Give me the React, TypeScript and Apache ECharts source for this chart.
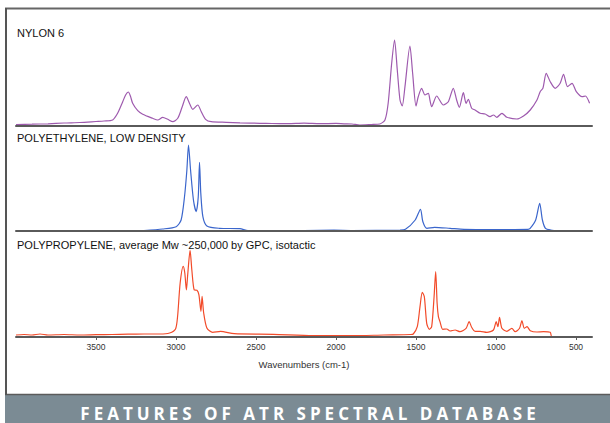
import React, { useEffect, useRef } from 'react';
import * as echarts from 'echarts';

const panelTitles = [
  'NYLON 6',
  'POLYETHYLENE, LOW DENSITY',
  'POLYPROPYLENE, average Mw ~250,000 by GPC, isotactic',
];
const bannerText = 'FEATURES OF ATR SPECTRAL DATABASE';
const axisTitle = 'Wavenumbers (cm-1)';
const tickValues = [3500, 3000, 2500, 2000, 1500, 1000, 500];

const nylonWavenumbers = [
  4000, 3900, 3800, 3700, 3600, 3500, 3450, 3396, 3365, 3333, 3315, 3298, 3285, 3271, 3239, 3208,
  3146, 3114, 3083, 3052, 3020, 2989, 2961, 2936, 2916, 2895, 2864, 2842, 2815, 2780, 2686, 2600,
  2477, 2400, 2300, 2200, 2100, 2000, 1950, 1900, 1851, 1780, 1726, 1694, 1674, 1652, 1634, 1617,
  1600, 1586, 1569, 1538, 1521, 1500, 1486, 1465, 1444, 1423, 1413, 1402, 1371, 1329, 1298, 1267,
  1246, 1229, 1204, 1187, 1173, 1152, 1131, 1099, 1068, 1037, 1016, 995, 963, 949, 932, 870,
  828, 786, 744, 724, 707, 686, 661, 630, 599, 578, 553, 525, 498, 462, 441, 415,
];
const nylonAbsorbance = [
  1.5, 1.8, 2.2, 3, 3.5, 4.5, 5, 6, 12.7, 24.3, 31, 34, 30, 22.7, 15.3, 11.7,
  7.7, 6, 8.7, 6.7, 4.3, 7.7, 19.3, 29.3, 22.7, 16.7, 21, 14.3, 6.7, 4.3, 3.7, 3.2,
  2.7, 2.5, 2.3, 2.8, 2.3, 2.6, 2.2, 2, 1, 1.5, 2, 6, 22.7, 62.7, 86, 56,
  26, 20, 39.3, 80, 52.7, 20, 29.3, 37.7, 31, 32.7, 26, 19.3, 30, 21, 24.3, 37.7,
  26, 18.7, 33.3, 22.7, 26.7, 17.7, 16, 12.7, 12, 9.3, 11, 8.7, 12.7, 11, 8.7, 7,
  10, 16, 26, 34.3, 37.7, 52.7, 44.3, 37.7, 42.7, 51.7, 39.3, 42.7, 34.3, 29.3, 30, 22.7,
];

const peWavenumbers = [
  3200, 3083, 2999, 2968, 2947, 2932, 2922, 2909, 2891, 2874, 2861, 2853, 2845, 2832, 2807, 2728,
  2600, 2550, 2200, 2013, 1900, 1600, 1566, 1505, 1472, 1457, 1432, 1384, 1287, 1200, 1000, 800,
  788, 752, 727, 710, 691, 659, 600, 400,
];
const peAbsorbance = [
  0.5, 2, 4.3, 11, 34, 61, 86, 61, 31, 19.3, 34, 68.7, 37.7, 14.3, 5, 2.7,
  2.3, 0.5, 0.5, 0.8, 0.5, 1, 1.7, 11, 21.7, 9.3, 2.7, 3.7, 2.7, 1.7, 1.5, 1.7,
  2.3, 11, 27.7, 11, 2.7, 1, 0, 0,
];

const ppWavenumbers = [
  4000, 3950, 3900, 3850, 3800, 3700, 3600, 3500, 3400, 3300, 3200, 3100, 3040, 3003, 2990, 2974,
  2955, 2945, 2935, 2927, 2912, 2901, 2886, 2869, 2857, 2844, 2837, 2827, 2807, 2771, 2722, 2636,
  2391, 2145, 2000, 1901, 1700, 1534, 1517, 1492, 1475, 1461, 1448, 1433, 1417, 1402, 1387, 1377,
  1368, 1360, 1350, 1333, 1308, 1287, 1256, 1225, 1187, 1168, 1152, 1131, 1099, 1057, 1016, 999,
  988, 978, 963, 932, 901, 880, 853, 838, 823, 806, 786, 744, 703, 661, 651, 400,
];
const ppAbsorbance = [
  2, 2.5, 2, 3, 2, 2.5, 2, 2.3, 2.5, 2.8, 3, 3, 4, 8, 20.7, 54,
  70.7, 64, 47, 62, 86.7, 67, 47, 46.7, 42.3, 25.7, 40.7, 24, 9, 4.7, 5.7, 3.3,
  2.7, 1.3, 1.5, 1.3, 2, 2.5, 3, 10.3, 30.3, 44.7, 40.3, 13.7, 7.7, 10.3, 40.3, 65.3,
  33.7, 20.3, 15.3, 7.7, 8, 6, 7, 5.3, 8.7, 15.3, 9.7, 5.7, 5.7, 4.7, 7, 15.3,
  10.3, 19.7, 8.7, 5.7, 8.7, 5.3, 8.7, 16.3, 8.7, 10.3, 6.3, 5, 5.3, 4.7, 0.5, 0.5,
];

const seriesColors = ['#9e5aae', '#3b66cc', '#f24b2a'];

export default function App() {
  const ref = useRef<HTMLDivElement>(null);

  useEffect(() => {
    if (!ref.current) return;
    const chart = echarts.init(ref.current, null, { renderer: 'svg' });
    const zip = (w: number[], v: number[]) => w.map((x, i) => [x, v[i]]);
    const datasets = [
      zip(nylonWavenumbers, nylonAbsorbance),
      zip(peWavenumbers, peAbsorbance),
      zip(ppWavenumbers, ppAbsorbance),
    ];
    const tops = [26, 131, 237];
    const titleY = [33, 138, 245];

    const applySpacing = () => {
      const root = ref.current;
      if (!root) return;
      root.querySelectorAll('text').forEach((t) => {
        if (t.textContent === bannerText) {
          t.setAttribute('letter-spacing', '4');
        }
      });
    };
    chart.on('finished', applySpacing);

    chart.setOption({
      animation: false,
      grid: tops.map((top) => ({ left: 16, right: 18, top, height: 100 })),
      xAxis: tops.map((_, i) => ({
        type: 'value',
        gridIndex: i,
        min: 400,
        max: 4000,
        inverse: true,
        z: 5,
        axisLine: { show: true, lineStyle: { color: '#5a5a5a', width: 2 } },
        axisTick:
          i === 2
            ? { show: true, length: 3, customValues: tickValues, lineStyle: { color: '#5a5a5a', width: 1 } }
            : { show: false },
        axisLabel:
          i === 2
            ? {
                show: true,
                customValues: tickValues,
                formatter: (v: number) => String(v),
                margin: 5,
                fontSize: 8.5,
                color: '#333',
                fontFamily: 'Liberation Sans',
              }
            : { show: false },
        splitLine: { show: false },
        name: i === 2 ? axisTitle : '',
        nameLocation: 'middle',
        nameGap: 22,
        nameTextStyle: { fontSize: 9.5, color: '#333', fontFamily: 'Liberation Sans' },
      })),
      yAxis: tops.map((_, i) => ({
        type: 'value',
        gridIndex: i,
        min: 0,
        max: 100,
        show: false,
      })),
      series: datasets.map((data, i) => ({
        type: 'line',
        xAxisIndex: i,
        yAxisIndex: i,
        data,
        symbol: 'none',
        showSymbol: false,
        smooth: 0.25,
        silent: true,
        lineStyle: { color: seriesColors[i], width: 1.2 },
      })),
      graphic: [
        { type: 'rect', silent: true, shape: { x: 5, y: 395, width: 605, height: 28 }, style: { fill: '#7b8b94' } },
        { type: 'line', silent: true, shape: { x1: 5, y1: 394.5, x2: 610, y2: 394.5 }, style: { stroke: '#5b5b5b', lineWidth: 1.5 } },
        { type: 'line', silent: true, shape: { x1: 5, y1: 8.5, x2: 610, y2: 8.5 }, style: { stroke: '#666', lineWidth: 2 } },
        { type: 'line', silent: true, shape: { x1: 6, y1: 8, x2: 6, y2: 395 }, style: { stroke: '#555', lineWidth: 2 } },
        ...panelTitles.map((t, i) => ({
          type: 'text',
          silent: true,
          x: 17,
          y: titleY[i],
          style: {
            text: t,
            fontSize: 11,
            fontFamily: 'Liberation Sans',
            fill: '#111',
            align: 'left',
            verticalAlign: 'middle',
            textAlign: 'left',
            textVerticalAlign: 'middle',
          },
        })),
        {
          type: 'text',
          silent: true,
          x: 310,
          y: 413,
          style: {
            text: bannerText,
            fontSize: 17,
            fontWeight: 'bold',
            fontFamily: 'Open Sans',
            fill: '#ffffff',
            align: 'center',
            verticalAlign: 'middle',
            textAlign: 'center',
            textVerticalAlign: 'middle',
          },
        },
      ],
    });
    applySpacing();
    const timer = setTimeout(applySpacing, 50);

    return () => {
      clearTimeout(timer);
      chart.dispose();
    };
  }, []);

  return (
    <div
      ref={ref}
      style={{ position: 'fixed', left: 0, top: 0, width: 610, height: 423, background: '#ffffff' }}
    />
  );
}
